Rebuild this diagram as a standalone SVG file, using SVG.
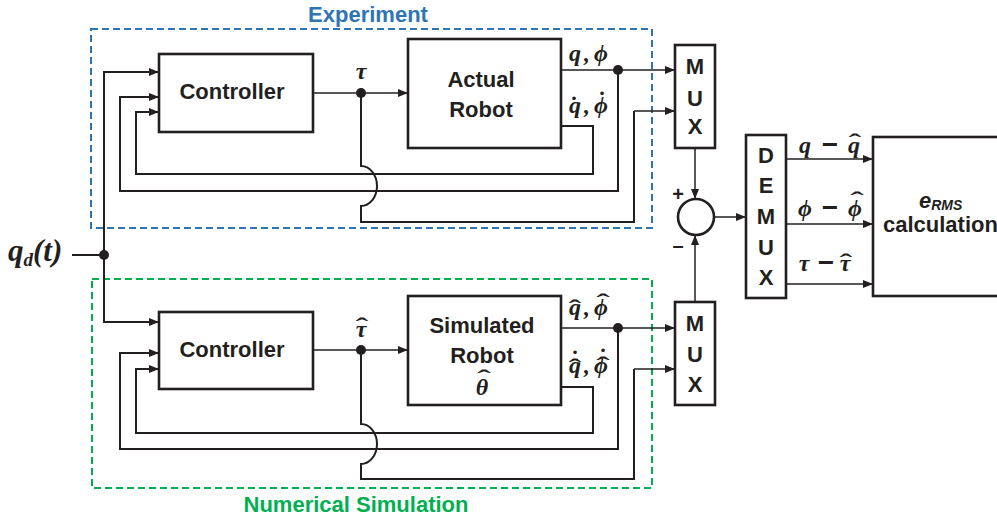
<svg xmlns="http://www.w3.org/2000/svg" width="997" height="519" viewBox="0 0 997 519">
<defs>
<marker id="arr" viewBox="0 0 10 8" refX="10" refY="4" markerWidth="10" markerHeight="8" markerUnits="userSpaceOnUse" orient="auto">
<path d="M0,0 L10,4 L0,8 Z" fill="#231f20"/>
</marker>
<style>
.box{fill:#fff;stroke:#231f20;stroke-width:2.6}
.ln{fill:none;stroke:#231f20;stroke-width:2}
.sg{fill:none;stroke:#231f20;stroke-width:1.5}
.dot{fill:#231f20}
.t{font-family:"Liberation Sans",Arial,sans-serif;font-weight:bold;font-size:22px;fill:#231f20;text-anchor:middle}
.m{font-family:"Liberation Serif","Times New Roman",serif;font-weight:bold;font-style:italic;font-size:24px;fill:#231f20;text-anchor:middle}
.h{font-family:"Liberation Serif","Times New Roman",serif;font-weight:bold;font-size:24px;fill:#231f20;text-anchor:middle}
.mi{font-style:normal;font-family:"Liberation Sans",Arial,sans-serif;font-weight:bold;font-size:28px}
.grp{fill:none;stroke-width:2;stroke-dasharray:7 4}
</style>
</defs>
<rect width="997" height="519" fill="#fff"/>

<g id="experiment">
<rect class="grp" x="91" y="29" width="561" height="199" stroke="#2e75b6"/>
<text class="t" x="368" y="22" style="fill:#2e75b6">Experiment</text>
</g>
<g id="simulation">
<rect class="grp" x="92" y="279" width="560" height="209" stroke="#00b050"/>
<text class="t" x="356" y="512" style="fill:#00b050">Numerical Simulation</text>
</g>

<g id="connectors">
<path class="ln" d="M72,255 H104"/>
<path class="ln" d="M104,255 V72 H159" marker-end="url(#arr)"/>
<path class="ln" d="M104,255 V322 H159" marker-end="url(#arr)"/>
<path class="ln" d="M561,126 H593 V174 H136 V112 H159" marker-end="url(#arr)"/>
<path class="ln" d="M618,70 V191 H120 V97 H159" marker-end="url(#arr)"/>
<path class="sg" d="M313,93 H408" marker-end="url(#arr)"/>
<path class="ln" d="M361,93 V166 A16,20 0 0 1 361,206 V222 H634 V111"/>
<path class="sg" d="M634,111 H675" marker-end="url(#arr)"/>
<path class="sg" d="M561,70 H675" marker-end="url(#arr)"/>
<path class="ln" d="M561,387 H593 V433 H136 V369 H159" marker-end="url(#arr)"/>
<path class="ln" d="M618,328 V449 H120 V353 H159" marker-end="url(#arr)"/>
<path class="sg" d="M313,350 H408" marker-end="url(#arr)"/>
<path class="ln" d="M361,350 V424 A16,20 0 0 1 361,464 V479 H634 V369"/>
<path class="sg" d="M634,369 H675" marker-end="url(#arr)"/>
<path class="sg" d="M561,328 H675" marker-end="url(#arr)"/>
<path class="sg" d="M695,148 V199" marker-end="url(#arr)"/>
<path class="sg" d="M695,302 V235" marker-end="url(#arr)"/>
<path class="sg" d="M714,217 H746" marker-end="url(#arr)"/>
<path class="sg" d="M786,159 H873" marker-end="url(#arr)"/>
<path class="sg" d="M786,224 H873" marker-end="url(#arr)"/>
<path class="sg" d="M786,284 H873" marker-end="url(#arr)"/>
<circle class="dot" cx="104" cy="255" r="5"/>
<circle class="dot" cx="361" cy="93" r="5"/>
<circle class="dot" cx="618" cy="70" r="5"/>
<circle class="dot" cx="361" cy="350" r="5"/>
<circle class="dot" cx="618" cy="328" r="5"/>
</g>

<g id="labels">
<text class="m" x="8" y="261" style="text-anchor:start;font-size:31px">q<tspan style="font-size:19px" dy="5">d</tspan><tspan dy="-5">(t)</tspan></text>
<text class="m" x="361" y="79">τ</text>
<text class="m"><tspan x="575" y="61">q</tspan><tspan x="587" y="61">,</tspan><tspan x="601" y="61">ϕ</tspan></text>
<text class="m"><tspan x="575" y="113">q</tspan><tspan x="587" y="113">,</tspan><tspan x="601" y="113">ϕ</tspan></text>
<text class="h" x="574" y="113">˙</text><text class="h" x="602" y="108">˙</text>
<text class="m" x="361" y="337">τ</text>
<text class="h" transform="translate(362,334) scale(1.6,1)">ˆ</text>
<text class="m"><tspan x="575" y="315">q</tspan><tspan x="587" y="315">,</tspan><tspan x="601" y="315">ϕ</tspan></text>
<text class="h" transform="translate(575,316) scale(1.6,1)">ˆ</text>
<text class="h" transform="translate(603,310) scale(1.7,1)">ˆ</text>
<text class="m"><tspan x="575" y="373">q</tspan><tspan x="587" y="373">,</tspan><tspan x="601" y="373">ϕ</tspan></text>
<text class="h" transform="translate(575,375) scale(1.6,1)">ˆ</text>
<text class="h" x="575" y="367">˙</text>
<text class="h" transform="translate(603,373) scale(1.7,1)">ˆ</text>
<text class="h" x="603" y="365">˙</text>
<text class="m"><tspan x="805" y="153">q</tspan><tspan class="mi" x="830" y="154">−</tspan><tspan x="854" y="153">q</tspan></text>
<text class="h" transform="translate(855,150) scale(1.6,1)">ˆ</text>
<text class="m"><tspan x="805" y="216">ϕ</tspan><tspan class="mi" x="830" y="217">−</tspan><tspan x="855" y="216">ϕ</tspan></text>
<text class="h" transform="translate(857,208) scale(1.7,1)">ˆ</text>
<text class="m"><tspan x="804" y="271">τ</tspan><tspan class="mi" x="826" y="272">−</tspan><tspan x="845" y="271">τ</tspan></text>
<text class="h" transform="translate(846,270) scale(1.6,1)">ˆ</text>
<text class="t" x="678" y="201" style="font-size:20px">+</text>
<text class="t" x="678" y="252" style="font-size:20px">–</text>
</g>

<g id="controller_top">
<rect class="box" x="159" y="54" width="154" height="78"/>
<text class="t" x="232" y="99">Controller</text>
</g>
<g id="actual_robot">
<rect class="box" x="408" y="39" width="153" height="109"/>
<text class="t" x="481" y="87">Actual</text>
<text class="t" x="481" y="117">Robot</text>
</g>
<g id="mux_top">
<rect class="box" x="675" y="45" width="40" height="103"/>
<text class="t" x="695" y="74">M</text>
<text class="t" x="695" y="106">U</text>
<text class="t" x="695" y="134">X</text>
</g>
<g id="sum">
<circle class="box" cx="696" cy="217" r="18"/>
</g>
<g id="demux">
<rect class="box" x="746" y="135" width="40" height="163"/>
<text class="t" x="766" y="163">D</text>
<text class="t" x="766" y="193">E</text>
<text class="t" x="766" y="224">M</text>
<text class="t" x="766" y="255">U</text>
<text class="t" x="766" y="285">X</text>
</g>
<g id="erms">
<rect class="box" x="873" y="137" width="140" height="159"/>
<text class="t" x="919" y="208" style="text-anchor:start;font-style:italic">e<tspan style="font-size:14px" dy="2">RMS</tspan></text>
<text class="t" x="883" y="232" style="text-anchor:start">calculation</text>
</g>
<g id="controller_bottom">
<rect class="box" x="159" y="312" width="154" height="77"/>
<text class="t" x="232" y="357">Controller</text>
</g>
<g id="simulated_robot">
<rect class="box" x="408" y="296" width="153" height="109"/>
<text class="t" x="482" y="333">Simulated</text>
<text class="t" x="482" y="363">Robot</text>
<text class="m" x="482" y="395">θ</text>
<text class="h" transform="translate(484,386) scale(1.7,1)">ˆ</text>
</g>
<g id="mux_bottom">
<rect class="box" x="675" y="302" width="40" height="103"/>
<text class="t" x="695" y="331">M</text>
<text class="t" x="695" y="362">U</text>
<text class="t" x="695" y="392">X</text>
</g>
</svg>
